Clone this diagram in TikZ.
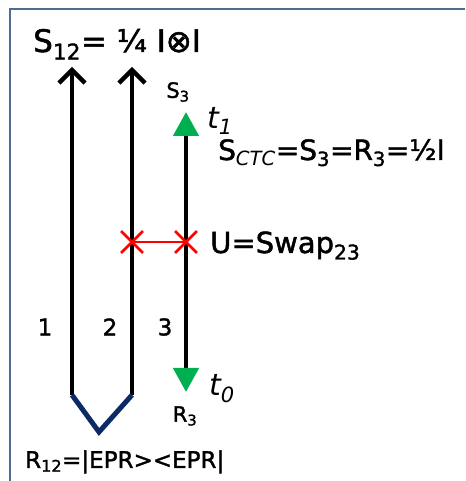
\documentclass[tikz,border=0pt]{standalone}
\usepackage{fontspec}
\setmainfont[BoldFont={DejaVu Sans},BoldFeatures={FakeBold=1.6}]{DejaVu Sans}
\usetikzlibrary{arrows.meta,shapes.misc}
\definecolor{frameBlue}{HTML}{4F6D8F}
\definecolor{eprNavy}  {HTML}{0B2A66}
\definecolor{ctcGreen} {HTML}{00B050}
\definecolor{swapRed}  {HTML}{FF0000}
\tikzset{
  wire/.style={draw=black,line width=4.6pt},
  upwire/.style={wire,-{Straight Barb[length=13pt,width=26pt,line width=4.4pt]}},
  ctcwire/.style={wire,{Triangle[length=24pt,width=25pt,color=ctcGreen]}-{Triangle[length=24pt,width=25pt,color=ctcGreen]}},
  epr/.style={draw=eprNavy,line width=5pt,line join=miter},
  xmark/.style={cross out,draw=swapRed,line width=2.8pt,minimum size=19pt,inner sep=0pt},
  swapline/.style={draw=swapRed,line width=2pt},
  frame/.style={draw=frameBlue,line width=2pt},
  bigtxt/.style={font=\fontsize{28}{32}\selectfont\bfseries,inner sep=0pt},
  midtxt/.style={font=\fontsize{23}{26}\selectfont\bfseries,inner sep=0pt},
  smalltxt/.style={font=\fontsize{21}{24}\selectfont\bfseries,inner sep=0pt},
  timetxt/.style={font=\fontsize{30}{34}\selectfont\itshape,inner sep=0pt},
}
\newcommand{\lowsub}[1]{\textsubscript{#1}}

\begin{document}
\begin{tikzpicture}[x=1pt,y=1pt]

\useasboundingbox (0,0) rectangle (465,481);
\draw[frame] (10,0) -- (10,472) -- (465,472);

% wires 1 and 2
\coordinate (w1bot) at (72,86);
\coordinate (w1top) at (72,414);
\coordinate (w2bot) at (132,86);
\coordinate (w2top) at (132,414);
\coordinate (eprtip) at (99,49);

\draw[upwire] (w1bot) -- (w1top);
\draw[upwire] (w2bot) -- (w2top);
\draw[epr] (w1bot) -- (eprtip) -- (w2bot);

% wire 3 (CTC)
\coordinate (w3top) at (186,369);
\coordinate (w3bot) at (186,89);
\draw[ctcwire] (w3top) -- (w3bot);

% swap
\node[xmark] (xa) at (132,239) {};
\node[xmark] (xb) at (186,239) {};
\draw[swapline] (xa.center) -- (xb.center);

% labels
\node[bigtxt,font=\fontsize{31}{34}\selectfont\bfseries,anchor=base west] (s12) at (33,429) {S\lowsub{12}= ¼ I⊗I};
\node[smalltxt] (s3) at (178,389) {S\lowsub{3}};
\node[timetxt] (t1) at (220,360) {t\lowsub{1}};
\node[bigtxt,anchor=base west] (sctc) at (218,321) {S\lowsub{\itshape CTC}=S\lowsub{3}=R\lowsub{3}=½I};
\node[bigtxt,font=\fontsize{29}{34}\selectfont\bfseries,anchor=base west] (swap) at (210,228) {U=Swap\lowsub{23}};
\node[midtxt] (n1) at (45,154) {1};
\node[midtxt] (n2) at (110,154) {2};
\node[midtxt] (n3) at (165,154) {3};
\node[timetxt] (t0) at (222,92) {t\lowsub{0}};
\node[smalltxt] (r3) at (185,65) {R\lowsub{3}};
\node[midtxt,anchor=base west] (r12) at (25,13) {R\lowsub{12}=|EPR>{}<EPR|};

\end{tikzpicture}
\end{document}
